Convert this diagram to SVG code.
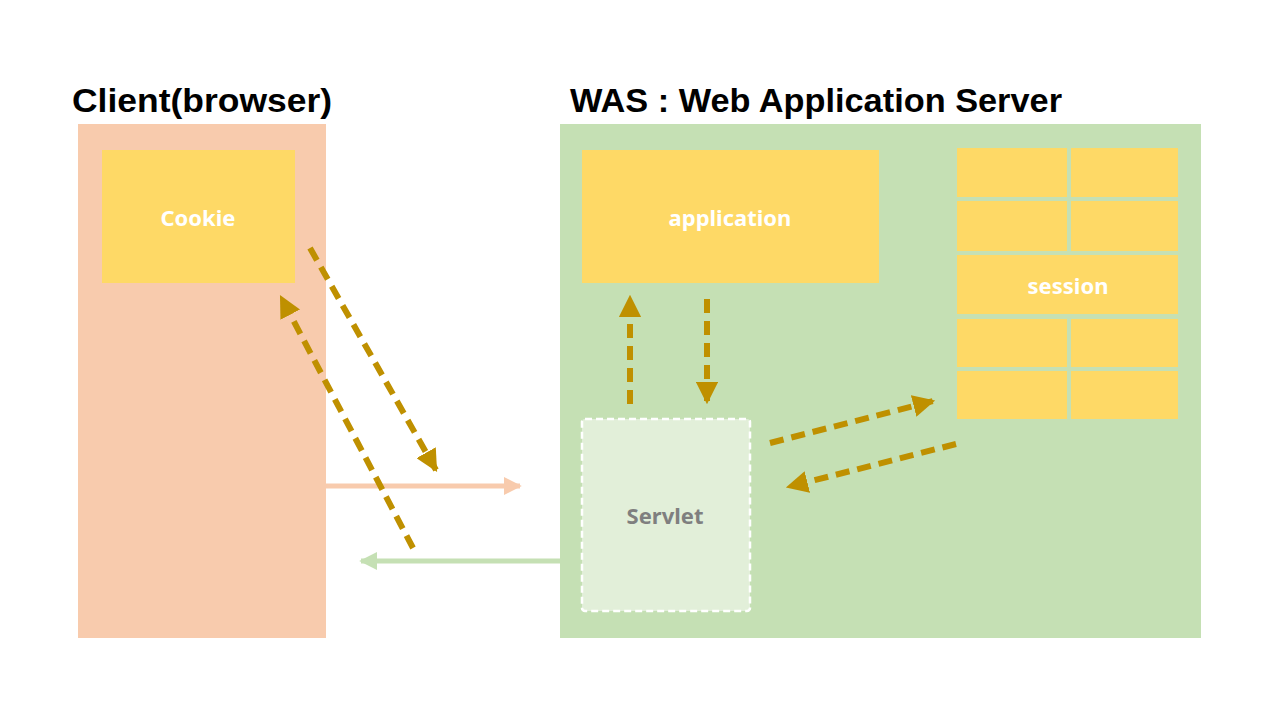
<svg xmlns="http://www.w3.org/2000/svg" width="1280" height="720" viewBox="0 0 1280 720">
<defs>
<style>
.title{font-family:"Liberation Sans",Arial,sans-serif;font-weight:bold;font-size:33px;fill:#000}
.lbl{font-family:"Noto Sans","Open Sans",sans-serif;font-weight:bold;font-size:22px;fill:#fff;text-anchor:middle}
.yel{fill:#FED966}
.dash{stroke:#BF9000;stroke-width:6;stroke-dasharray:14 8;fill:none}
</style>
<marker id="gold" viewBox="0 0 10 10" refX="9" refY="5" markerWidth="3.7" markerHeight="3.7" markerUnits="strokeWidth" orient="auto"><path d="M0,0 L10,5 L0,10 z" fill="#BF9000"/></marker>
<marker id="peach" viewBox="0 0 10 10" refX="9" refY="5" markerWidth="3.6" markerHeight="3.6" markerUnits="strokeWidth" orient="auto"><path d="M0,0 L10,5 L0,10 z" fill="#F8CBAD"/></marker>
<marker id="green" viewBox="0 0 10 10" refX="9" refY="5" markerWidth="3.6" markerHeight="3.6" markerUnits="strokeWidth" orient="auto"><path d="M0,0 L10,5 L0,10 z" fill="#C5E0B4"/></marker>
</defs>
<rect width="1280" height="720" fill="#fff"/>
<g id="client">
<text class="title" x="72" y="112" textLength="260" lengthAdjust="spacingAndGlyphs">Client(browser)</text>
<rect x="78" y="124" width="248" height="514" fill="#F8CBAD"/>
</g>
<g id="was">
<text class="title" x="570" y="112" textLength="492" lengthAdjust="spacingAndGlyphs">WAS : Web Application Server</text>
<rect x="560" y="124" width="641" height="514" fill="#C5E0B4"/>
</g>
<g id="cookie">
<rect class="yel" x="102" y="150" width="193" height="133"/>
<text class="lbl" x="198" y="226">Cookie</text>
</g>
<g id="application">
<rect class="yel" x="582" y="150" width="297" height="133"/>
<text class="lbl" x="730" y="226">application</text>
</g>
<g id="session">
<rect class="yel" x="957" y="148" width="110" height="49"/>
<rect class="yel" x="1071" y="148" width="107" height="49"/>
<rect class="yel" x="957" y="201" width="110" height="50"/>
<rect class="yel" x="1071" y="201" width="107" height="50"/>
<rect class="yel" x="957" y="255" width="221" height="59"/>
<rect class="yel" x="957" y="319" width="110" height="48"/>
<rect class="yel" x="1071" y="319" width="107" height="48"/>
<rect class="yel" x="957" y="371" width="110" height="48"/>
<rect class="yel" x="1071" y="371" width="107" height="48"/>
<text class="lbl" x="1068" y="294">session</text>
</g>
<g id="servlet">
<rect x="582" y="419" width="168" height="192" rx="3" fill="#E2EFD9" stroke="#fff" stroke-width="2.5" stroke-dasharray="7 4"/>
<text class="lbl" x="665" y="524" style="fill:#7F7F7F">Servlet</text>
</g>
<g id="connectors">
<line x1="326" y1="486" x2="520" y2="486" stroke="#F8CBAD" stroke-width="5" marker-end="url(#peach)"/>
<line x1="560" y1="561" x2="361" y2="561" stroke="#C5E0B4" stroke-width="5" marker-end="url(#green)"/>
<line class="dash" x1="310" y1="248" x2="436" y2="470" marker-end="url(#gold)"/>
<line class="dash" x1="413" y1="548" x2="281" y2="297" marker-end="url(#gold)"/>
<line class="dash" x1="630" y1="404" x2="630" y2="297" marker-end="url(#gold)"/>
<line class="dash" x1="707" y1="299" x2="707" y2="402" marker-end="url(#gold)"/>
<line class="dash" x1="770" y1="443" x2="933" y2="401" marker-end="url(#gold)"/>
<line class="dash" x1="956" y1="444" x2="788" y2="487" marker-end="url(#gold)"/>
</g>
</svg>
